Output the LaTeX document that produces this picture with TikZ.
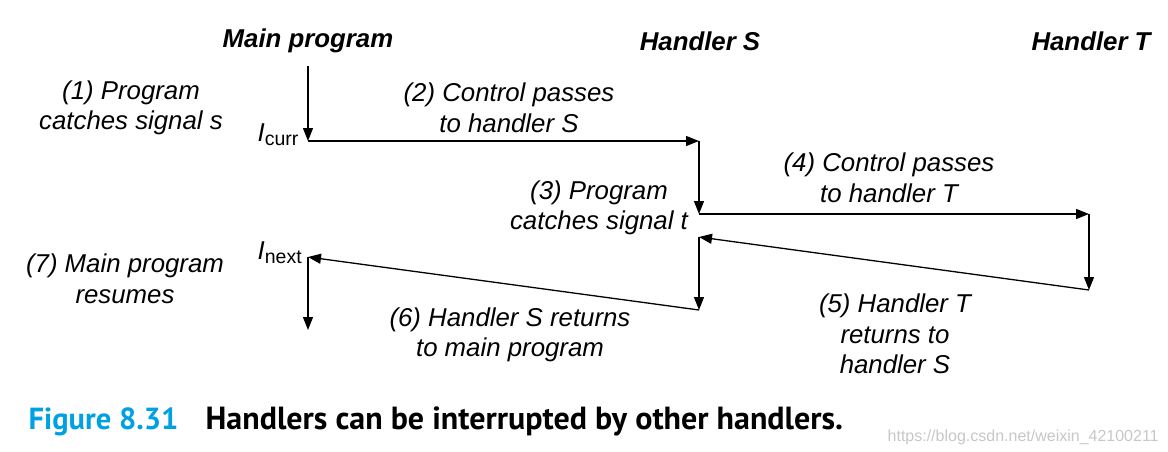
\documentclass[tikz,border=0pt]{standalone}
\usepackage{fontspec}
\setmainfont{Liberation Sans}
\newfontfamily\capfont{PT Sans}
\usetikzlibrary{arrows.meta}
\definecolor{figblue}{RGB}{0,160,228}
\newcommand{\sublbl}[1]{\raisebox{-0.3ex}{\fontsize{19.5}{19.5}\selectfont #1}}

\begin{document}
\begin{tikzpicture}[x=1pt,y=-1pt,>={Triangle[length=13pt,width=10pt]},line width=1.3pt,
    lbl/.style={align=center,font=\fontsize{25.8}{30.5}\selectfont\itshape},
    head/.style={font=\fontsize{25.8}{30}\selectfont\bfseries\itshape}]
    \useasboundingbox (0,0) rectangle (1168,452);

    \node[head] (hM) at (308,41) {Main program};
    \node[head] (hS) at (700,41) {Handler S};
    \node[head] (hT) at (1091,41) {Handler T};

    \coordinate (M0) at (308,66);
    \coordinate (M1) at (308,141);
    \coordinate (S1) at (699,141);
    \coordinate (S2) at (699,214);
    \coordinate (T1) at (1089,214);
    \coordinate (T2) at (1089,290);
    \coordinate (S3) at (699,237);
    \coordinate (S4) at (699,310);
    \coordinate (M2) at (308,257);
    \coordinate (M3) at (308,330);

    \node[anchor=base west,inner sep=0pt,font=\fontsize{25.8}{30}\selectfont] (Icurr) at (257,141) {\textit{I}\sublbl{curr}};
    \node[anchor=base west,inner sep=0pt,font=\fontsize{25.8}{30}\selectfont] (Inext) at (257,259) {\textit{I}\sublbl{next}};

    \node[lbl] (L1) at (131,108) {(1) Program\\catches signal s};
    \node[lbl] (L2) at (509,108) {(2) Control passes\\to handler S};
    \node[lbl] (L3) at (599,208) {(3) Program\\catches signal t};
    \node[lbl] (L4) at (889,178) {(4) Control passes\\to handler T};
    \node[lbl] (L5) at (895,334) {(5) Handler T\\returns to\\handler S};
    \node[lbl] (L6) at (510,335) {(6) Handler S returns\\to main program};
    \node[lbl] (L7) at (125,279) {(7) Main program\\resumes};

    \draw[->] (M0) -- (M1);
    \draw[->] (M1) -- (S1);
    \draw[->] (S1) -- (S2);
    \draw[->] (S2) -- (T1);
    \draw[->] (T1) -- (T2);
    \draw[->] (T2) -- (S3);
    \draw[->] (S3) -- (S4);
    \draw[->] (S4) -- (M2);
    \draw[->] (M2) -- (M3);

    \node[anchor=base west,inner sep=0pt,text=figblue,font=\capfont\bfseries\fontsize{30.5}{32}\selectfont] (fig) at (28,429) {Figure 8.31};
    \node[anchor=base west,inner sep=0pt,font=\capfont\bfseries\fontsize{32}{34}\selectfont] (cap) at (205,429) {Handlers can be interrupted by other handlers.};
    \node[anchor=base west,inner sep=0pt,text=black!22,font=\fontsize{16}{16}\selectfont] (wm) at (887,441) {https://blog.csdn.net/weixin\_42100211};
\end{tikzpicture}
\end{document}
